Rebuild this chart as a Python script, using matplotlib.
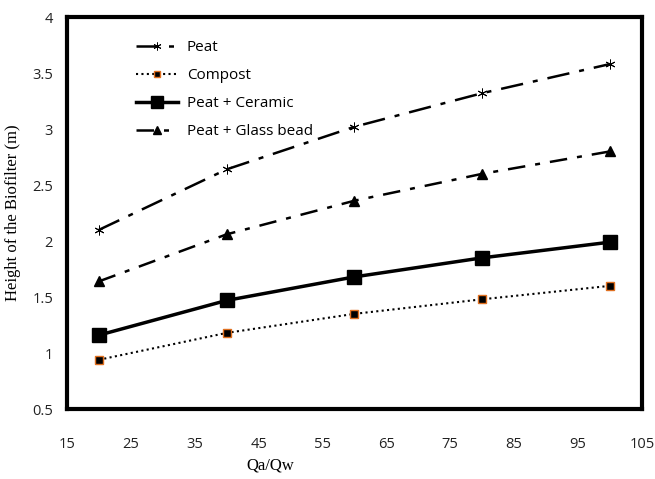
import matplotlib
matplotlib.use("Agg")
import matplotlib.pyplot as plt

qa_qw = [20, 40, 60, 80, 100]
peat = [2.10, 2.64, 3.02, 3.32, 3.58]
compost = [0.94, 1.18, 1.35, 1.48, 1.60]
peat_ceramic = [1.16, 1.47, 1.68, 1.85, 1.99]
peat_glass = [1.64, 2.06, 2.36, 2.60, 2.80]

fig = plt.figure(figsize=(6.55, 4.79), dpi=100)
ax = fig.add_axes([0.1023, 0.146, 0.8777, 0.8185])

ax.plot(qa_qw, peat, color='black', lw=1.8, dashes=(9, 4, 2, 4),
        marker=(6, 2, 0), ms=7, mew=0.7, label='Peat')
ax.plot(qa_qw, compost, color='black', lw=1.5, ls=(0, (1, 1.6)),
        marker='s', ms=6, mfc='black', mec='#e07020', mew=1.0, label='Compost')
ax.plot(qa_qw, peat_ceramic, color='black', lw=2.5, ls='-',
        marker='s', ms=10, label='Peat + Ceramic')
ax.plot(qa_qw, peat_glass, color='black', lw=1.8, dashes=(7, 4, 2, 4),
        marker='^', ms=7, label='Peat + Glass bead')

ax.set_xlim(15, 105)
ax.set_ylim(0.5, 4)
ax.set_xticks(range(15, 106, 10))
ax.set_yticks([0.5, 1, 1.5, 2, 2.5, 3, 3.5, 4])
ax.set_yticklabels(['0.5', '1', '1.5', '2', '2.5', '3', '3.5', '4'])
ax.tick_params(length=0, labelsize=10.5, colors='#222222')
ax.tick_params(axis='x', pad=20)
ax.tick_params(axis='y', pad=10)
for lab in ax.get_xticklabels() + ax.get_yticklabels():
    lab.set_family('Open Sans')
for s in ax.spines.values():
    s.set_linewidth(3)

ax.set_ylabel('Height of the Biofilter (m)', family='Liberation Serif', fontsize=12, labelpad=8)
fig.text(0.413, 0.029, 'Qa/Qw', family='Liberation Serif', fontsize=12,
         ha='center', va='center')

leg = ax.legend(loc='upper left', bbox_to_anchor=(0.11, 0.957), frameon=False,
                prop={'family': 'Open Sans', 'size': 11}, handlelength=2.7,
                handletextpad=0.6, labelspacing=0.85, borderaxespad=0,
                markerscale=0.8)

fig.savefig('out.png', dpi=100)
